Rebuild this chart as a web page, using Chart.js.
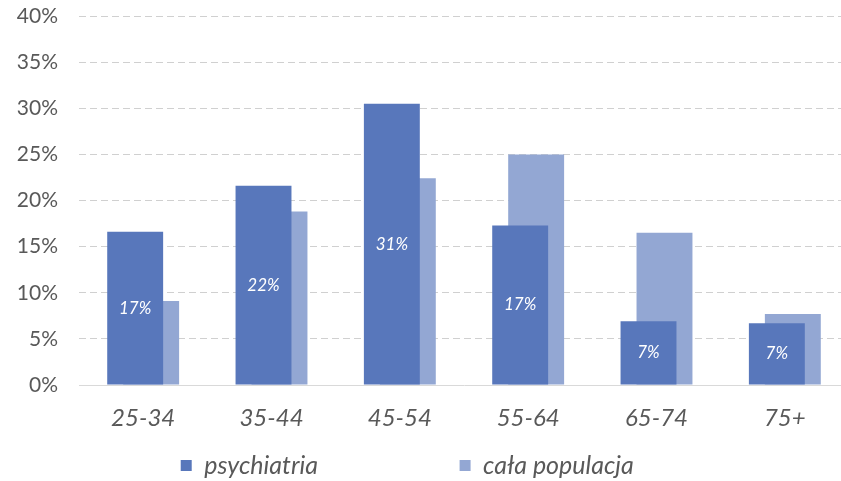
<!DOCTYPE html>
<html>
<head>
<meta charset="utf-8">
<script src="https://cdn.jsdelivr.net/npm/chart.js@4.4.1/dist/chart.umd.min.js"></script>
<style>
  html, body { margin: 0; padding: 0; overflow: hidden; background: #fff; }
</style>
</head>
<body>
<canvas id="chart" width="860" height="490"></canvas>
<script>
// age groups and shares (%)
const categories = ['25-34', '35-44', '45-54', '55-64', '65-74', '75+'];
const psychiatria = [16.6, 21.6, 30.5, 17.3, 6.9, 6.7];
const calaPopulacja = [9.1, 18.8, 22.4, 25.0, 16.5, 7.7];
const seriesNames = ['psychiatria', 'cała populacja'];
const yTicks = [0, 5, 10, 15, 20, 25, 30, 35, 40];

const textColor = '#595959';
const gridColor = '#d0d0d0';

// white % labels inside the psychiatria bars
const barLabels = {
    id: 'barLabels',
    afterDatasetsDraw(chart) {
        const ctx = chart.ctx;
        const meta = chart.getDatasetMeta(0);
        ctx.save();
        ctx.fillStyle = '#ffffff';
        ctx.font = 'italic 17px Lato';
        ctx.textAlign = 'center';
        ctx.textBaseline = 'middle';
        meta.data.forEach((bar, i) => {
            const v = chart.data.datasets[0].data[i];
            ctx.fillText(Math.round(v) + '%', bar.x, (bar.y + bar.base) / 2);
        });
        ctx.restore();
    }
};

const ctx = document.getElementById('chart').getContext('2d');
const chart = new Chart(ctx, {
    type: 'bar',
    data: {
        labels: categories,
        datasets: [
            { label: seriesNames[0], data: psychiatria, backgroundColor: '#5877bb', borderWidth: 0 },
            { label: seriesNames[1], data: calaPopulacja, backgroundColor: '#93a7d3', borderWidth: 0 }
        ]
    },
    options: {
        responsive: false,
        animation: false,
        categoryPercentage: 0.249,
        barPercentage: 3.5,
        layout: { padding: { left: 0, right: 11, top: 16, bottom: 2 } },
        plugins: {
            tooltip: { enabled: false },
            legend: {
                position: 'bottom',
                labels: {
                    color: textColor,
                    font: { family: 'Lato', size: 25, style: 'italic' },
                    boxWidth: 11,
                    boxHeight: 11,
                    padding: 15,
                    // push the second item far to the right, like the original
                    generateLabels: chart => {
                        const items = Chart.defaults.plugins.legend.labels.generateLabels(chart);
                        items[0].text += '\u2003'.repeat(7) + ' ';
                        items[1].text += '\u2003'.repeat(2);
                        return items;
                    }
                }
            }
        },
        scales: {
            x: {
                offset: true,
                grid: { display: false, drawTicks: false },
                border: { display: true, color: '#d9d9d9', width: 1 },
                ticks: {
                    color: textColor,
                    font: { family: 'Lato', size: 24, style: 'italic' },
                    padding: 19,
                    maxRotation: 0
                },
                afterFit: s => { s.height = 53; }
            },
            y: {
                min: yTicks[0],
                max: yTicks[yTicks.length - 1],
                afterBuildTicks: s => { s.ticks = yTicks.map(v => ({ value: v })); },
                grid: {
                    drawTicks: false,
                    color: c => c.tick && c.tick.value === 0 ? 'rgba(0,0,0,0)' : gridColor,
                    lineWidth: 1
                },
                border: { display: false, dash: [7, 4] },
                ticks: {
                    color: textColor,
                    font: { family: 'Lato', size: 21 },
                    padding: 21,
                    callback: v => v + '%'
                },
                afterFit: s => {
                    s.width = 79;
                    s.paddingTop = 0;
                    s.paddingBottom = 0;
                }
            }
        }
    },
    plugins: [barLabels]
});
</script>
</body>
</html>
